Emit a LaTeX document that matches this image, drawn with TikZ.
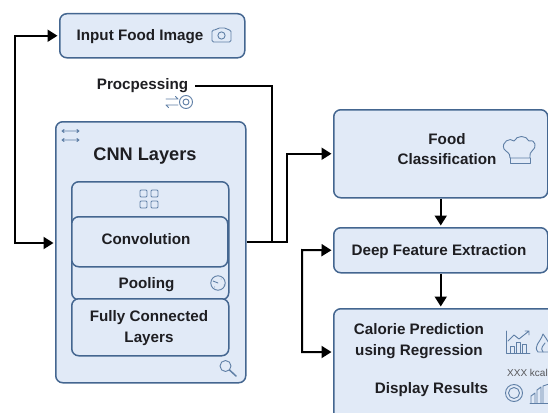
\documentclass[tikz,border=0pt]{standalone}
\usepackage{fontspec}
\setmainfont{Liberation Sans}
\usetikzlibrary{arrows.meta,calc}
\definecolor{boxfill}{HTML}{E1EAF7}
\definecolor{boxline}{HTML}{446690}
\definecolor{iconline}{HTML}{5F7FA6}
\definecolor{inkc}{HTML}{1E1E22}
\tikzset{
  panel/.style={draw=boxline,fill=boxfill,line width=1.5pt,rounded corners=7pt,inner sep=0pt,anchor=north west},
  label/.style={inner sep=0pt,text=inkc,font=\bfseries\fontsize{15.2}{20.6}\selectfont,align=center},
  wire/.style={draw=black,line width=2pt,line join=miter},
  arrowwire/.style={wire,-{Triangle[length=10pt,width=12pt]},shorten >=1.5pt},
  bothwire/.style={wire,{Triangle[length=10pt,width=12pt]}-{Triangle[length=10pt,width=12pt]},shorten >=1.5pt,shorten <=1.5pt},
  icon/.style={draw=iconline,line width=0.9pt,fill=none,line cap=round,line join=round},
}
\begin{document}
\begin{tikzpicture}[x=1pt,y=-1pt]
\useasboundingbox (0,0) rectangle (548,412);
\clip (0,0) rectangle (548,412);
\fill[white] (0,0) rectangle (548,412);
% panels
\node[panel,minimum width=185pt,minimum height=44pt] (input) at (59,13) {};
\node[panel,minimum width=190pt,minimum height=261pt] (cnn) at (55,121) {};
\node[panel,minimum width=157pt,minimum height=118pt] (stack) at (71,181) {};
\node[panel,minimum width=156pt,minimum height=50pt] (conv) at (71,216) {};
\node[panel,minimum width=157pt,minimum height=57pt] (fc) at (71,298) {};
\node[panel,minimum width=214pt,minimum height=88pt] (food) at (333,109) {};
\node[panel,minimum width=214pt,minimum height=45pt] (deep) at (333,227) {};
\node[panel,minimum width=230pt,minimum height=120pt] (cal) at (333,308) {};
% labels
\node[label] (inputT) at (140,36.5) {Input Food Image};
\node[label] (proc) at (142.5,86) {Procpessing};
\node[label,font=\bfseries\fontsize{18.2}{22}\selectfont] (cnnT) at (145,156) {CNN Layers};
\node[label] (convT) at (146,239.5) {Convolution};
\node[label] (pool) at (146.5,285) {Pooling};
\node[label] (fcT) at (149,328) {Fully Connected\\Layers};
\node[label] (foodT) at (447,149) {Food\\Classification};
\node[label] (deepT) at (439,251.5) {Deep Feature Extraction};
\node[label] (calT) at (419,341) {Calorie Prediction\\using Regression};
\node[label] (disp) at (431.5,390) {Display Results};
\node[inner sep=0pt,text=inkc!75,font=\fontsize{10}{12}\selectfont,anchor=west] (kcal) at (507,373) {XXX kcal};
% connectors
\coordinate (busL) at (15,243);
\coordinate (busR) at (287,242);
\coordinate (busP) at (272,242);
\coordinate (busD) at (302,250);
\draw[bothwire] (input.west) -| (busL) -- (cnn.west |- busL);
\draw[wire] (proc.east) ++(7,-0.5) -| (busP);
\draw[arrowwire] (cnn.east |- busR) -- (busR) |- (food.west);
\draw[arrowwire] (food.south) -- (deep.north);
\draw[arrowwire] (deep.south) -- (deep.south |- cal.north);
\draw[bothwire] (deep.west) -- (busD) |- ($(cal.north west)+(0,44)$);
% icons
\begin{scope}[icon]
 % camera
 \draw[rounded corners=1.5pt] (212,30) -- (216,30) -- (218,28) -- (226,28) -- (228,30) -- (231,30) -- (231,42) -- (212,42) -- cycle;
 \draw (221.5,35.5) circle (3.6);
 % processing arrows + target
 \draw (166,99) -- (178,99) (175.5,96.5) -- (178,99);
 \draw (178,105) -- (166,105) (168.5,107.5) -- (166,105);
 \draw (186,102) circle (6.5) (186,102) circle (3);
 % cnn arrows
 \draw (62,131) -- (79,131) (64,129.5) -- (62,131) -- (64,132.5) (77,129.5) -- (79,131) -- (77,132.5);
 \draw (62,140) -- (79,140) (64,138.5) -- (62,140) -- (64,141.5) (77,138.5) -- (79,140) -- (77,141.5);
 % grid
 \draw[rounded corners=1pt] (140,190) rectangle (147,197) (151,190) rectangle (158,197) (140,201) rectangle (147,208) (151,201) rectangle (158,208);
 % pooling dial
 \draw (218,283) circle (7.2);
 \draw (213,281) -- (218,283) (214.5,287) -- (214.6,287) (221,279) -- (221.1,279) (224,285) -- (225,285);
 % magnifier
 \draw (225.5,366) circle (5.5);
 \draw[line width=1.5pt] (229.5,370) -- (236,376);
 % chef hat
 \draw (510,158) .. controls (510,152) and (507,153) .. (504,149) .. controls (501,142) and (510,137) .. (514,141) .. controls (517,135) and (526,135) .. (529,141) .. controls (536,139) and (537,148) .. (532,151) .. controls (530,152) and (530,154) .. (530,158) -- cycle;
 \draw (510,158) -- (510,163) -- (530,163) -- (530,158);
 % chart
 \draw (506,331) -- (506,353) -- (530,353);
 \draw (510,353) -- (510,346) -- (514,346) -- (514,353) (516,353) -- (516,342) -- (520,342) -- (520,353) (522,353) -- (522,344) -- (526,344) -- (526,353);
 \draw (508,341) -- (514,335) -- (519,339) -- (529,331) (525,331) -- (529,331) -- (529,335);
 % flame
 \draw (538,352) .. controls (533,346) and (540,343) .. (543,334) .. controls (547,340) and (552,345) .. (549,352) -- cycle;
 \draw (543,352) .. controls (540,348) and (543,346) .. (545,343);
 % plate
 \draw (514,393) circle (8.5) (514,393) circle (5.5);
 % bars
 \draw (531,403) -- (531,396) -- (535,393) -- (535,403) (537,403) -- (537,390) -- (541,387) -- (541,403) (543,403) -- (543,386) -- (549,384);
 \draw (530,403) -- (549,403);
\end{scope}
\end{tikzpicture}
\end{document}
